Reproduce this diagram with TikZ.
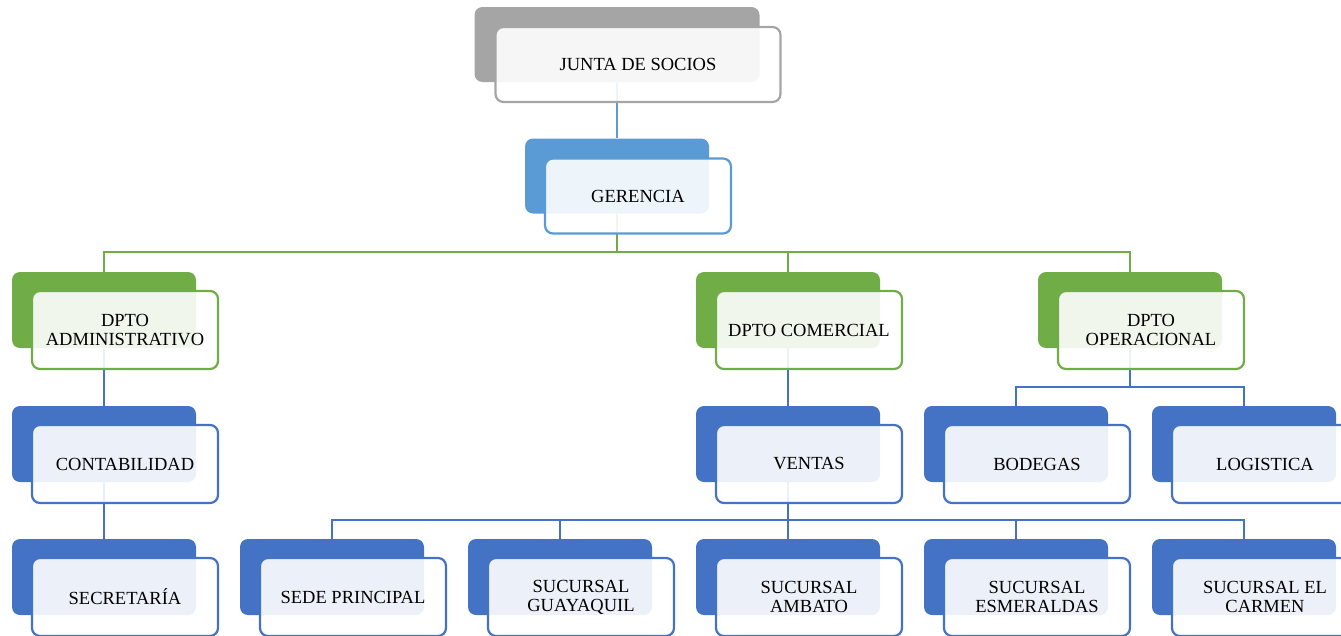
\documentclass[tikz,border=0pt]{standalone}
\usepackage{fontspec}
\setmainfont{Liberation Serif}
\usetikzlibrary{backgrounds}

\definecolor{grisorg}{HTML}{A5A5A5}
\definecolor{celeste}{HTML}{5B9BD5}
\definecolor{verde}{HTML}{70AD47}
\definecolor{azul}{HTML}{4472C4}

\tikzset{
  backbox/.style={rectangle, rounded corners=8pt, inner sep=0pt,
    minimum width=184pt, minimum height=76pt},
  frontbox/.style={rectangle, rounded corners=8pt, inner sep=0pt,
    fill=white, fill opacity=0.9, text opacity=1, line width=2.2pt,
    minimum width=186pt, minimum height=78pt, align=center,
    font=\fontsize{18.5}{19}\selectfont},
  link/.style={line width=2.2pt},
}

% one chart unit: coloured back tab plus outlined label card
% #1 extra options, #2 name, #3 x, #4 y, #5 colour, #6 label
\newcommand{\orgunit}[6][]{%
  \node[backbox, fill=#5, #1] (#2) at (#3,#4) {};
  \node[frontbox, draw=#5, #1] (#2t) at (#3+21,#4+20) {#6};
}

\begin{document}
\begin{tikzpicture}[x=1pt, y=-1pt]
  \useasboundingbox (0,0) rectangle (1341,635);
  \clip (0,0) rectangle (1341,635);

  % top levels
  \orgunit[minimum width=285pt, minimum height=75pt]{junta}{617}{44.5}{grisorg}{JUNTA DE SOCIOS}
  \orgunit[minimum height=75pt]{ger}{617}{176}{celeste}{GERENCIA}

  % departments
  \orgunit{adm}{104}{310}{verde}{DPTO\\ADMINISTRATIVO}
  \orgunit{com}{788}{310}{verde}{DPTO COMERCIAL}
  \orgunit{ope}{1130}{310}{verde}{DPTO\\OPERACIONAL}

  % third level
  \orgunit{cont}{104}{444}{azul}{CONTABILIDAD}
  \orgunit{ven}{788}{444}{azul}{VENTAS}
  \orgunit{bod}{1016}{444}{azul}{BODEGAS}
  \orgunit{log}{1244}{444}{azul}{LOGISTICA}

  % fourth level
  \orgunit{sec}{104}{577}{azul}{SECRETARÍA}
  \orgunit{sede}{332}{577}{azul}{SEDE PRINCIPAL}
  \orgunit{gye}{560}{577}{azul}{SUCURSAL\\GUAYAQUIL}
  \orgunit{amb}{788}{577}{azul}{SUCURSAL\\AMBATO}
  \orgunit{esm}{1016}{577}{azul}{SUCURSAL\\ESMERALDAS}
  \orgunit{car}{1244}{577}{azul}{SUCURSAL EL\\CARMEN}

  % connectors behind the boxes
  \begin{scope}[on background layer]
    \coordinate (busger) at (617,252);
    \coordinate (busope) at (1130,387);
    \coordinate (busven) at (788,520);

    \draw[link, celeste] (junta.south) -- (ger.north);

    \draw[link, verde] (ger.south) -- (busger) -| (adm.north);
    \draw[link, verde] (busger) -| (com.north);
    \draw[link, verde] (busger) -| (ope.north);

    \draw[link, azul] (adm.south) -- (cont.north);
    \draw[link, azul] (com.south) -- (ven.north);
    \draw[link, azul] (ope.south) -- (busope) -| (bod.north);
    \draw[link, azul] (busope) -| (log.north);

    \draw[link, azul] (cont.south) -- (sec.north);
    \draw[link, azul] (ven.south) -- (busven) -| (sede.north);
    \draw[link, azul] (busven) -| (gye.north);
    \draw[link, azul] (busven) -| (amb.north);
    \draw[link, azul] (busven) -| (esm.north);
    \draw[link, azul] (busven) -| (car.north);
  \end{scope}
\end{tikzpicture}
\end{document}
